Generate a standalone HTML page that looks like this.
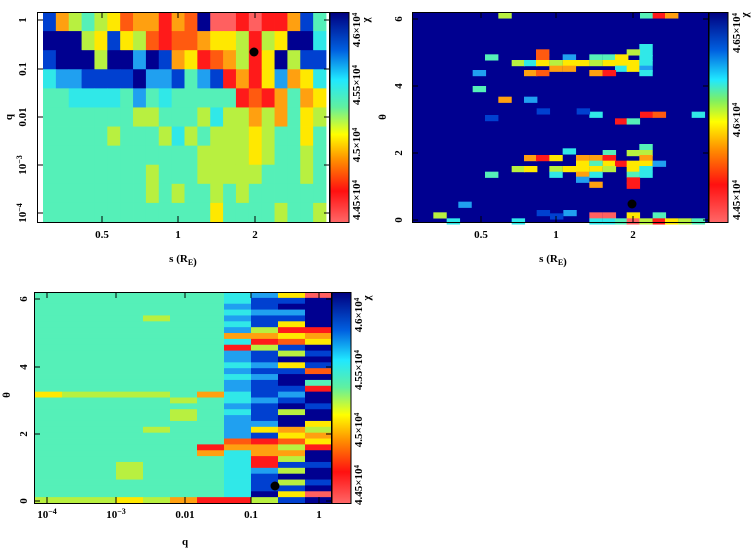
<!DOCTYPE html>
<html><head><meta charset="utf-8"><style>
html,body{margin:0;padding:0;background:#fff;width:754px;height:548px;overflow:hidden}
svg{display:block}
text{font-family:"Liberation Serif",serif;font-weight:bold;font-size:11px;fill:#000}
</style></head><body>
<svg id="s" width="754" height="548" xmlns="http://www.w3.org/2000/svg">
<defs>
<linearGradient id="jet" x1="0" y1="1" x2="0" y2="0">
<stop offset="0" stop-color="#ff6868"/><stop offset="0.15" stop-color="#ff1010"/><stop offset="0.3" stop-color="#ff9000"/><stop offset="0.42" stop-color="#ffff00"/><stop offset="0.55" stop-color="#60f0a0"/><stop offset="0.68" stop-color="#20e8ff"/><stop offset="0.82" stop-color="#0060e0"/><stop offset="1" stop-color="#000080"/>
</linearGradient>
<linearGradient id="jet2" x1="0" y1="1" x2="0" y2="0">
<stop offset="0" stop-color="#ff6868"/><stop offset="0.18" stop-color="#ff1010"/><stop offset="0.35" stop-color="#ff9000"/><stop offset="0.48" stop-color="#ffff00"/><stop offset="0.58" stop-color="#80f060"/><stop offset="0.68" stop-color="#20e8ff"/><stop offset="0.82" stop-color="#0060e0"/><stop offset="1" stop-color="#000080"/>
</linearGradient>
</defs>
<g id="g"></g>
</svg>
<script>
var C={"0":"#ff6060","1":"#ff1a1a","2":"#ff5a10","3":"#ffa010","4":"#ffe800","5":"#b8f040","6":"#55f0b8","7":"#30e8e8","8":"#20a0f0","9":"#0040d0","A":"#000090"};
var g=document.getElementById('g'),h='';
function R(x,y,w,hh,c){h+='<rect x="'+x.toFixed(2)+'" y="'+y.toFixed(2)+'" width="'+(w+0.4).toFixed(2)+'" height="'+(hh+0.4).toFixed(2)+'" fill="'+c+'"/>';}
function T(x,y,t,rot,anchor){h+='<text x="'+x+'" y="'+y+'" text-anchor="'+(anchor||'middle')+'"'+(rot?' transform="rotate(-90 '+x+' '+y+')"':'')+'>'+t+'</text>';}
function L(x1,y1,x2,y2){h+='<line x1="'+x1+'" y1="'+y1+'" x2="'+x2+'" y2="'+y2+'" stroke="#000" stroke-width="1"/>';}
var p1=["935654233132A001011396","AAA5494521223445154AA7","9AAA5AA8A934123514A599","7889999A88968913148347","6677776867666661213634","6666666556665755353645","6666656665756555456646","6666666666665555456656","6666666656665555566656","6666666656566565666666","6666666666666466665665"];
var x0=43,x1=326,y0=12,y1=222,cw=(x1-x0)/22,rh=(y1-y0)/11;
for(var r=0;r<11;r++)for(var c=0;c<22;c++)R(x0+c*cw,y0+r*rh,cw,rh,C[p1[r][c]]);
R(413,12,295,210,"#000090");
var cells=[[385,37,"5"],[810,37,"6"],[848,37,"1"],[885,37,"3"],[808,132,"7"],[808,150,"7"],[770,148,"5"],[498,148,"2"],[498,163,"2"],[345,163,"6"],[658,163,"6"],[698,163,"6"],[735,163,"4"],[578,163,"8"],[808,165,"7"],
[425,180,"5"],[462,180,"7"],[498,180,"4"],[538,180,"5"],[578,180,"4"],[618,180,"4"],[658,180,"5"],[698,180,"4"],[735,180,"4"],[770,180,"4"],[808,180,"7"],
[538,197,"3"],[578,197,"3"],[735,197,"7"],[770,197,"4"],[808,197,"8"],[308,210,"8"],[462,210,"3"],[498,210,"2"],[658,210,"3"],[698,210,"1"],[808,210,"7"],
[308,258,"6"],[385,290,"3"],[462,290,"8"],[810,335,"1"],[848,335,"2"],[658,335,"7"],[965,335,"7"],[735,355,"1"],[770,355,"6"],
[578,445,"7"],[808,432,"6"],[808,450,"5"],[698,450,"6"],[770,450,"5"],[462,465,"3"],[498,465,"1"],[538,465,"4"],[618,465,"3"],[658,465,"3"],[698,465,"1"],[808,465,"3"],
[618,482,"4"],[658,482,"6"],[698,482,"4"],[735,482,"1"],[770,482,"4"],[808,482,"4"],[848,482,"8"],
[425,498,"5"],[462,498,"4"],[538,498,"5"],[578,498,"4"],[618,498,"4"],[658,498,"4"],[698,498,"5"],[770,498,"4"],[808,498,"7"],
[345,515,"6"],[538,515,"7"],[618,515,"3"],[658,515,"7"],[770,515,"6"],[808,515,"7"],[618,530,"8"],[770,532,"1"],[658,545,"3"],[770,548,"1"],
[265,605,"8"],[190,637,"5"],[658,637,"0"],[698,637,"0"],[770,637,"4"],[848,637,"6"],
[230,655,"7"],[425,655,"7"],[658,655,"7"],[698,655,"7"],[735,655,"6"],[770,655,"0"],[808,655,"5"],[848,655,"1"],[885,655,"4"],[925,655,"5"],[965,655,"6"],[500,630,"9"],[580,630,"8"],[540,640,"9"],[345,345,"9"],[500,325,"9"],[620,325,"9"]];
cells.forEach(function(k){R(370+k[0]/3,k[1]/3,13,5.8,C[k[2]])});
var cols=[
"666666666666666664666666666666666665",
"666666666666666665666666666666666665",
"666666666666666665666666666666666665",
"666666666666666665666666666665556664",
"666656666666666665666665666666666665",
"666666666666666666565566666666666663",
"666666666666666663666666661366666661",
"778787837188787887787888823777777771",
"8998995315998989998999849133118999A5",
"49A89414295A49AA989A5AA34253595A59493",
"0AAAAA134A9A92A61AA9AA45341AA9AA9A0A0"];
var bx0=35,bx1=332,by0=292,by1=503,bcw=(bx1-bx0)/11,brh=(by1-by0)/36;
for(var c=0;c<11;c++)for(var r=0;r<36;r++)R(bx0+c*bcw,by0+r*brh,bcw,brh,C[cols[c][r]]);
h+='<rect x="37.5" y="12.5" width="292" height="210" fill="none" stroke="#000"/>';
h+='<rect x="330" y="12.5" width="19" height="210" fill="url(#jet)" stroke="#000"/>';
h+='<rect x="412.5" y="12.5" width="296" height="210" fill="none" stroke="#000"/>';
h+='<rect x="709" y="12.5" width="19" height="210" fill="url(#jet2)" stroke="#000"/>';
h+='<rect x="34.5" y="292.5" width="297" height="211" fill="none" stroke="#000"/>';
h+='<rect x="332" y="292.5" width="19" height="211" fill="url(#jet)" stroke="#000"/>';
// ticks
[20,69,117,165,213].forEach(function(y){L(37,y,43,y);L(324,y,330,y);});
[102,178,255].forEach(function(x){L(x,222,x,216);L(x,12,x,18);});
[220,153,86,19].forEach(function(y){L(412,y,418,y);L(703,y,709,y);});
[481,556,633].forEach(function(x){L(x,222,x,216);L(x,12,x,18);});
[501,434,367,299].forEach(function(y){L(34,y,40,y);L(326,y,332,y);});
[47,116,185,251,319].forEach(function(x){L(x,503,x,497);L(x,292,x,298);});
h+='<circle cx="254" cy="52" r="4.5"/><circle cx="632" cy="204" r="4.5"/><circle cx="275" cy="486" r="4.5"/>';
T(26,20,"1",1);T(26,69,"0.1",1);T(26,117,"0.01",1);T(26,165,"10<tspan font-size='8' dy='-4'>−3</tspan>",1);T(26,213,"10<tspan font-size='8' dy='-4'>−4</tspan>",1);
T(12,117,"q",1);
T(102,238,"0.5");T(178,238,"1");T(255,238,"2");T(183,262,"s (R<tspan font-size='8' dy='3'>E</tspan>)");
T(360,30,"4.6×10<tspan font-size='7' dy='-3'>4</tspan>",1);T(360,85,"4.55×10<tspan font-size='7' dy='-3'>4</tspan>",1);T(360,145,"4.5×10<tspan font-size='7' dy='-3'>4</tspan>",1);T(360,200,"4.45×10<tspan font-size='7' dy='-3'>4</tspan>",1);
T(369,20,"χ",1);
T(402,220,"0",1);T(402,153,"2",1);T(402,86,"4",1);T(402,19,"6",1);T(386,117,"θ",1);
T(481,238,"0.5");T(556,238,"1");T(633,238,"2");T(553,262,"s (R<tspan font-size='8' dy='3'>E</tspan>)");
T(740,33,"4.65×10<tspan font-size='7' dy='-3'>4</tspan>",1);T(740,120,"4.6×10<tspan font-size='7' dy='-3'>4</tspan>",1);T(740,200,"4.45×10<tspan font-size='7' dy='-3'>4</tspan>",1);T(748,15,"χ",1);
T(27,501,"0",1);T(27,434,"2",1);T(27,367,"4",1);T(27,299,"6",1);T(10,395,"θ",1);
T(47,518,"10<tspan font-size='8' dy='-4'>−4</tspan>");T(116,518,"10<tspan font-size='8' dy='-4'>−3</tspan>");T(185,518,"0.01");T(251,518,"0.1");T(319,518,"1");T(185,545,"q");
T(362,315,"4.6×10<tspan font-size='7' dy='-3'>4</tspan>",1);T(362,370,"4.55×10<tspan font-size='7' dy='-3'>4</tspan>",1);T(362,430,"4.5×10<tspan font-size='7' dy='-3'>4</tspan>",1);T(362,485,"4.45×10<tspan font-size='7' dy='-3'>4</tspan>",1);T(370,298,"χ",1);
g.innerHTML=h;
</script>
</body></html>
